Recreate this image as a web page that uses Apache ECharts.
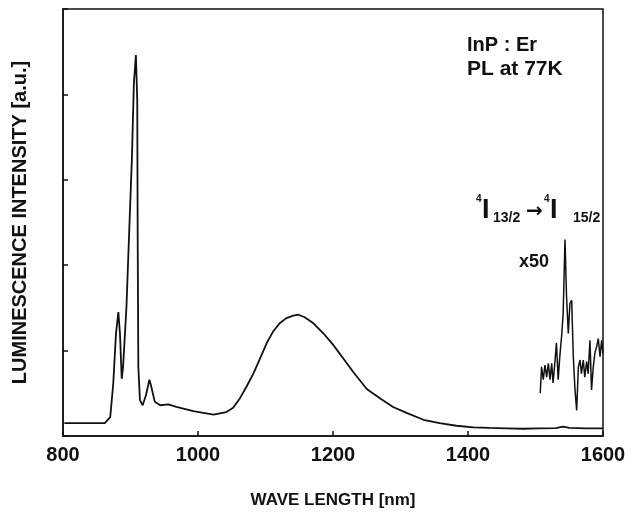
<!DOCTYPE html>
<html>
<head>
<meta charset="utf-8">
<script src="https://cdn.jsdelivr.net/npm/echarts@6/dist/echarts.min.js"></script>
<style>
html,body{margin:0;padding:0;background:#fff;}
#chart{width:634px;height:521px;}
</style>
</head>
<body>
<div id="chart"></div>
<script>
// Main PL spectrum (wavelength nm, intensity a.u.)
var mainWave = [802, 862, 870, 874.5, 878.5, 882, 884.4, 887, 889, 894, 898, 902, 905, 908, 910, 910.6, 911.6, 914, 918, 923, 928, 931, 936, 944, 956, 968, 993, 1023, 1042, 1052, 1062, 1072, 1082, 1092, 1102, 1111, 1121, 1131, 1141, 1149, 1158, 1171, 1186, 1200, 1215, 1230, 1250, 1270, 1289, 1309, 1334, 1358, 1383, 1408, 1432, 1457, 1482, 1504, 1530, 1541, 1550, 1575, 1600];
var mainIntensity = [0.15, 0.152, 0.22, 0.62, 1.2, 1.45, 1.2, 0.67, 0.81, 1.51, 2.38, 3.23, 4.13, 4.46, 3.93, 2.38, 0.81, 0.42, 0.36, 0.48, 0.66, 0.57, 0.40, 0.36, 0.37, 0.34, 0.29, 0.25, 0.28, 0.33, 0.44, 0.58, 0.73, 0.91, 1.09, 1.22, 1.32, 1.38, 1.41, 1.42, 1.39, 1.32, 1.20, 1.07, 0.91, 0.75, 0.55, 0.44, 0.34, 0.27, 0.19, 0.15, 0.12, 0.10, 0.094, 0.09, 0.085, 0.09, 0.092, 0.11, 0.095, 0.09, 0.09];
// x50 magnified Er 4I13/2 -> 4I15/2 region
var x50Wave = [1507, 1509, 1511.5, 1514, 1516.5, 1519, 1521.5, 1524, 1526, 1529, 1531, 1533.6, 1536, 1539, 1541, 1543.7, 1546, 1548.6, 1551, 1553.6, 1556, 1558.5, 1561, 1563.5, 1566, 1568, 1570.8, 1573, 1575.8, 1578, 1580.7, 1583, 1585.6, 1588, 1590.7, 1593, 1595.6, 1598, 1600];
var x50Intensity = [0.50, 0.81, 0.66, 0.83, 0.69, 0.85, 0.66, 0.85, 0.62, 0.89, 1.09, 0.66, 0.93, 1.20, 1.44, 2.30, 1.63, 1.20, 1.55, 1.59, 0.93, 0.54, 0.30, 0.81, 0.89, 0.73, 0.89, 0.69, 0.87, 0.73, 1.12, 0.54, 0.81, 0.97, 1.05, 1.14, 0.93, 1.12, 0.97];
var xTicks = [800, 1000, 1200, 1400, 1600];

function pairs(xs, ys){ return xs.map(function(x,i){ return [x, ys[i]]; }); }

var FONT = 'Liberation Sans';
var INK = '#111';
var chart = echarts.init(document.getElementById('chart'), null, {renderer:'canvas'});
chart.setOption({
  backgroundColor: '#fff',
  animation: false,
  grid: {left: 63, right: 31, top: 9, bottom: 85, show: true, borderColor: INK, borderWidth: 1.5, backgroundColor: 'transparent'},
  xAxis: {
    type: 'value', min: xTicks[0], max: xTicks[xTicks.length-1], interval: 200,
    axisLine: {show: true, onZero: false, lineStyle: {color: INK, width: 1.5}},
    axisTick: {show: true, inside: true, length: 5, lineStyle: {color: INK, width: 1.5}},
    splitLine: {show: false},
    axisLabel: {color: INK, fontFamily: FONT, fontWeight: 'bold', fontSize: 20, margin: 9,
      formatter: function(v){ return String(v); }},
    name: 'WAVE LENGTH [nm]', nameLocation: 'middle', nameGap: 56,
    nameTextStyle: {color: INK, fontFamily: FONT, fontWeight: 'bold', fontSize: 17}
  },
  yAxis: {
    type: 'value', min: 0, max: 5, interval: 1,
    axisLine: {show: true, lineStyle: {color: INK, width: 1.5}},
    axisTick: {show: true, inside: true, length: 5, lineStyle: {color: INK, width: 1.5}},
    splitLine: {show: false},
    axisLabel: {show: false},
    name: 'LUMINESCENCE INTENSITY [a.u.]', nameLocation: 'middle', nameGap: 33, nameRotate: 90,
    nameTextStyle: {color: INK, fontFamily: FONT, fontWeight: 'bold', fontSize: 20}
  },
  series: [
    {type: 'line', data: pairs(mainWave, mainIntensity), showSymbol: false, smooth: false,
     lineStyle: {color: INK, width: 1.8}},
    {type: 'line', data: pairs(x50Wave, x50Intensity), showSymbol: false, smooth: false,
     lineStyle: {color: INK, width: 1.5}}
  ],
  graphic: [
    {type: 'text', left: 467, top: 35, style: {text: 'InP : Er', fill: INK, font: 'bold 20px "Liberation Sans"'}},
    {type: 'text', left: 467, top: 59, style: {text: 'PL at 77K', fill: INK, font: 'bold 21px "Liberation Sans"'}},
    {type: 'text', left: 476, top: 194, style: {text: '4', fill: INK, font: 'bold 10px "Liberation Sans"'}},
    {type: 'text', left: 482, top: 197, style: {text: 'I', fill: INK, font: 'bold 27px "Liberation Sans"'}},
    {type: 'text', left: 493, top: 211, style: {text: '13/2', fill: INK, font: 'bold 14px "Liberation Sans"'}},
    {type: 'text', left: 526, top: 202, style: {text: '\u2192', fill: INK, font: 'bold 20px "DejaVu Sans"'}},
    {type: 'text', left: 544, top: 194, style: {text: '4', fill: INK, font: 'bold 10px "Liberation Sans"'}},
    {type: 'text', left: 550, top: 197, style: {text: 'I', fill: INK, font: 'bold 27px "Liberation Sans"'}},
    {type: 'text', left: 573, top: 211, style: {text: '15/2', fill: INK, font: 'bold 14px "Liberation Sans"'}},
    {type: 'text', left: 519, top: 253, style: {text: 'x50', fill: INK, font: 'bold 18px "Liberation Sans"'}}
  ]
});
</script>
</body>
</html>
